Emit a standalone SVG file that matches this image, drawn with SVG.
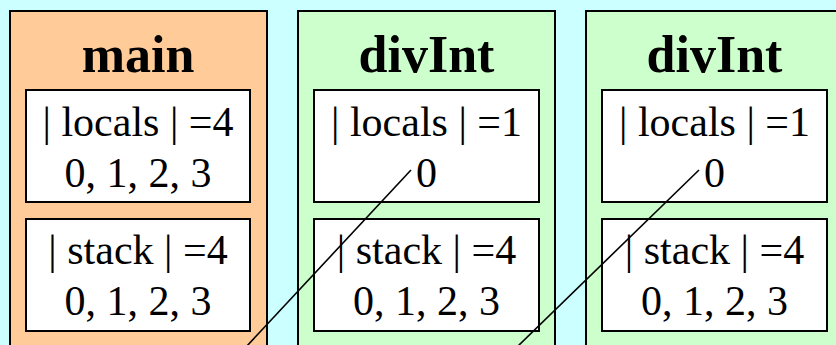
<svg xmlns="http://www.w3.org/2000/svg" width="836" height="345" viewBox="0 0 836 345">
<style>
.frame{stroke:#000;stroke-width:2}
.main{fill:#ffcc99}
.div{fill:#ccffcc}
.box{fill:#fff;stroke:#000;stroke-width:2}
.title{font-family:"Liberation Serif",serif;font-weight:bold;font-size:52px;text-anchor:middle;fill:#000}
.t{font-family:"Liberation Serif",serif;font-size:42px;text-anchor:middle;fill:#000}
.conn{stroke:#000;stroke-width:1.6;fill:none}
</style>
<rect width="836" height="345" fill="#ccffff"/>
<g id="main">
<rect class="frame main" x="10" y="11" width="257" height="360"/>
<text class="title" x="138" y="72">main</text>
<rect class="box" x="26" y="90" width="224" height="112"/>
<text class="t" x="138" y="136">| locals | =4</text>
<text class="t" x="138" y="187">0, 1, 2, 3</text>
<rect class="box" x="26" y="219" width="224" height="112"/>
<text class="t" x="138" y="264">| stack | =4</text>
<text class="t" x="138" y="315">0, 1, 2, 3</text>
</g>
<g id="divInt1">
<rect class="frame div" x="298" y="11" width="257" height="360"/>
<text class="title" x="426.5" y="72">divInt</text>
<rect class="box" x="314" y="90" width="225" height="112"/>
<text class="t" x="426.5" y="136">| locals | =1</text>
<text class="t" x="426.5" y="187">0</text>
<rect class="box" x="314" y="219" width="225" height="112"/>
<text class="t" x="426.5" y="264">| stack | =4</text>
<text class="t" x="426.5" y="315">0, 1, 2, 3</text>
</g>
<g id="divInt2">
<rect class="frame div" x="586" y="11" width="270" height="360"/>
<text class="title" x="714.5" y="72">divInt</text>
<rect class="box" x="602" y="90" width="225" height="112"/>
<text class="t" x="714.5" y="136">| locals | =1</text>
<text class="t" x="714.5" y="187">0</text>
<rect class="box" x="602" y="219" width="225" height="112"/>
<text class="t" x="714.5" y="264">| stack | =4</text>
<text class="t" x="714.5" y="315">0, 1, 2, 3</text>
</g>
<g id="connectors">
<line class="conn" x1="246" y1="347" x2="411" y2="170"/>
<line class="conn" x1="517" y1="347" x2="699" y2="170"/>
</g>
</svg>
